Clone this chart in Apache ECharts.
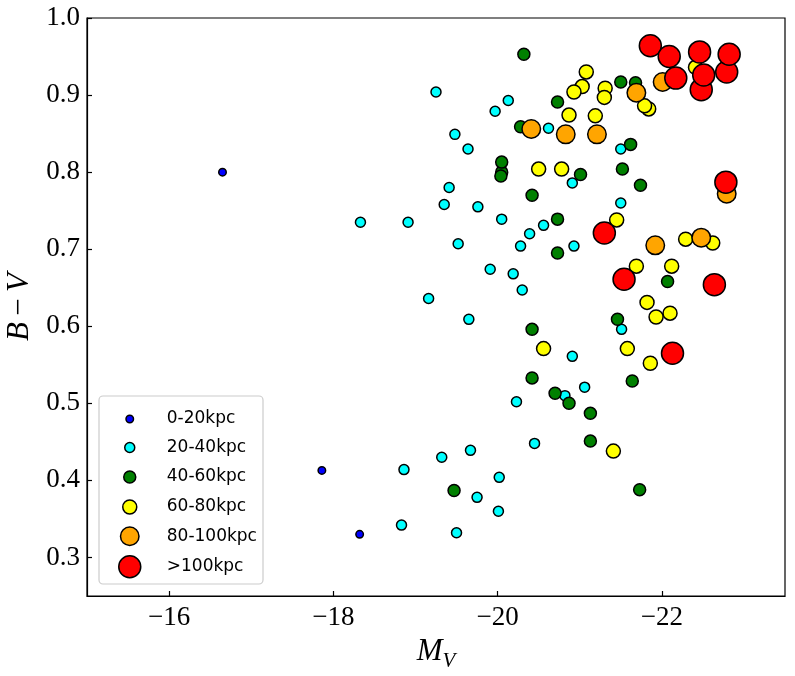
<!DOCTYPE html>
<html>
<head>
<meta charset="utf-8">
<script src="https://cdn.jsdelivr.net/npm/echarts@6/dist/echarts.min.js"></script>
<style>
  html, body { margin: 0; padding: 0; background: #fff; }
  #chart { width: 795px; height: 676px; }
</style>
</head>
<body>
<div id="chart"></div>
<script>
// [M_V, B-V] per distance bin
const bin0to20 = [[-16.65, 0.800], [-17.86, 0.413], [-18.32, 0.330]]

const bin20to40 = [
  [-19.25, 0.904], [-20.13, 0.893], [-19.97, 0.879], [-19.48, 0.849], [-19.64, 0.830],
  [-20.62, 0.857], [-21.50, 0.830], [-19.41, 0.780], [-19.35, 0.758], [-19.76, 0.755],
  [-20.05, 0.739], [-18.33, 0.735], [-18.91, 0.735], [-20.91, 0.786], [-21.50, 0.760],
  [-20.56, 0.731], [-20.39, 0.720], [-20.28, 0.704], [-20.93, 0.704], [-19.52, 0.707],
  [-19.91, 0.674], [-20.19, 0.668], [-20.30, 0.647], [-19.16, 0.636], [-19.65, 0.609],
  [-21.51, 0.596], [-20.91, 0.561], [-21.06, 0.521], [-20.82, 0.510], [-20.23, 0.502],
  [-20.45, 0.448], [-19.67, 0.439], [-19.32, 0.430], [-18.86, 0.414], [-20.02, 0.404],
  [-19.75, 0.378], [-20.01, 0.360], [-18.83, 0.342], [-19.50, 0.332]
]

const bin40to60 = [
  [-20.32, 0.953], [-20.73, 0.891], [-20.28, 0.859], [-21.50, 0.917], [-21.68, 0.916],
  [-21.62, 0.836], [-20.05, 0.800], [-20.04, 0.795], [-20.05, 0.813], [-21.01, 0.797],
  [-21.52, 0.804], [-21.74, 0.783], [-20.42, 0.770], [-20.73, 0.739], [-20.73, 0.695],
  [-22.07, 0.658], [-21.46, 0.609], [-20.42, 0.596], [-20.42, 0.533], [-21.64, 0.529],
  [-20.70, 0.513], [-20.87, 0.500], [-21.13, 0.487], [-21.13, 0.451], [-19.47, 0.387],
  [-21.73, 0.388]
]

const bin60to80 = [
  [-21.08, 0.930], [-21.03, 0.911], [-20.93, 0.904], [-21.31, 0.909], [-21.30, 0.897],
  [-21.84, 0.882], [-21.79, 0.886], [-22.41, 0.936], [-20.87, 0.874], [-21.19, 0.873],
  [-20.50, 0.804], [-20.78, 0.804], [-21.45, 0.738], [-22.29, 0.713], [-22.62, 0.708],
  [-21.69, 0.678], [-22.12, 0.678], [-21.82, 0.631], [-21.93, 0.612], [-22.10, 0.617],
  [-20.56, 0.571], [-21.58, 0.571], [-21.86, 0.552], [-21.41, 0.438]
]

const bin80to100 = [
  [-20.41, 0.856], [-20.83, 0.849], [-21.21, 0.849], [-21.69, 0.903], [-22.01, 0.917],
  [-22.79, 0.772], [-21.92, 0.705], [-22.48, 0.715]
]

const binOver100 = [
  [-21.86, 0.964], [-22.09, 0.950], [-22.46, 0.956], [-22.48, 0.907], [-22.51, 0.926],
  [-22.79, 0.930], [-22.82, 0.953], [-22.17, 0.922], [-22.78, 0.787], [-21.30, 0.721],
  [-21.54, 0.661], [-22.64, 0.654], [-22.13, 0.565]
]

const binNames = ['0-20kpc', '20-40kpc', '40-60kpc', '60-80kpc', '80-100kpc', '>100kpc']
const binData = [bin0to20, bin20to40, bin40to60, bin60to80, bin80to100, binOver100]

// axis ticks
const xTicks = [-16, -18, -20, -22]
const yTicks = [0.3, 0.4, 0.5, 0.6, 0.7, 0.8, 0.9, 1.0]

// styles
const binColors = ['#0000ff', '#00ffff', '#008000', '#ffff00', '#ffa500', '#ff0000']
const binSizes = [7.5, 10, 12, 14, 18.5, 22]
const legendRows = [414.3, 444, 474.5, 505.5, 535.5, 566]
const legendIconX = 129   // centre of legend markers
const legendTextX = 166   // start of legend labels

const serif = 'Liberation Serif'
const chart = echarts.init(document.getElementById('chart'))

const tickStyle = { inside: true, length: 5, lineStyle: { color: '#000', width: 1.2 } }

const option = {
  animation: false,
  backgroundColor: '#fff',
  grid: {
    left: 87, right: 10, top: 18, bottom: 80,
    outerBoundsMode: 'none',
    containLabel: false,
    show: true, borderColor: '#000', borderWidth: 1.2
  },
  graphic: [{
    type: 'rect',
    z: 3,
    shape: { x: 99, y: 396, width: 164, height: 188, r: 4 },
    style: { fill: 'rgba(255,255,255,0.8)', stroke: '#cccccc', lineWidth: 1.2 }
  }],
  // one legend per bin so each marker keeps its own size
  legend: binNames.map((name, i) => ({
    data: [{ name, icon: 'circle' }],
    left: legendIconX - binSizes[i] / 2,
    top: legendRows[i] - binSizes[i] / 2,
    padding: 0,
    itemWidth: binSizes[i],
    itemHeight: binSizes[i],
    itemStyle: { borderColor: '#000', borderWidth: 1.5 },
    textStyle: {
      fontFamily: 'DejaVu Sans', fontSize: 17, color: '#000',
      padding: [0, 0, 0, legendTextX - (legendIconX + binSizes[i] / 2 + 5)]
    },
    selectedMode: false,
    z: 5
  })),
  xAxis: {
    type: 'value',
    inverse: true,
    min: -23.5,
    max: -15,
    splitLine: { show: false },
    axisLine: { show: true, onZero: false, lineStyle: { color: '#000', width: 1.2 } },
    axisTick: Object.assign({ customValues: xTicks }, tickStyle),
    axisLabel: {
      customValues: xTicks,
      margin: 8,
      color: '#000',
      fontFamily: serif,
      fontSize: 27,
      formatter: v => String(v).replace('-', '\u2212')
    },
    name: '{i|M}{s|V}',
    nameLocation: 'middle',
    nameGap: 34,
    nameTextStyle: {
      rich: {
        i: { fontFamily: serif, fontStyle: 'italic', fontSize: 31, color: '#000' },
        s: { fontFamily: serif, fontStyle: 'italic', fontSize: 21, color: '#000',
             verticalAlign: 'bottom', lineHeight: 42 }
      }
    }
  },
  yAxis: {
    type: 'value',
    min: 0.25,
    max: 1.0,
    splitLine: { show: false },
    axisLine: { show: true, onZero: false, lineStyle: { color: '#000', width: 1.2 } },
    axisTick: Object.assign({ customValues: yTicks }, tickStyle),
    axisLabel: {
      customValues: yTicks,
      margin: 7,
      color: '#000',
      fontFamily: serif,
      fontSize: 27,
      formatter: v => v.toFixed(1)
    },
    name: '{i|B}{n|\u2009\u2212\u2009}{i|V}',
    nameLocation: 'middle',
    nameRotate: 90,
    nameGap: 50,
    nameTextStyle: {
      rich: {
        i: { fontFamily: serif, fontStyle: 'italic', fontSize: 31, color: '#000' },
        n: { fontFamily: serif, fontSize: 31, color: '#000' }
      }
    }
  },
  series: binNames.map((name, i) => ({
    name,
    type: 'scatter',
    data: binData[i],
    symbol: 'circle',
    symbolSize: binSizes[i],
    itemStyle: { color: binColors[i], borderColor: '#000', borderWidth: 1.5, opacity: 1 },
    emphasis: { disabled: true }
  }))
}

chart.setOption(option)
</script>
</body>
</html>
